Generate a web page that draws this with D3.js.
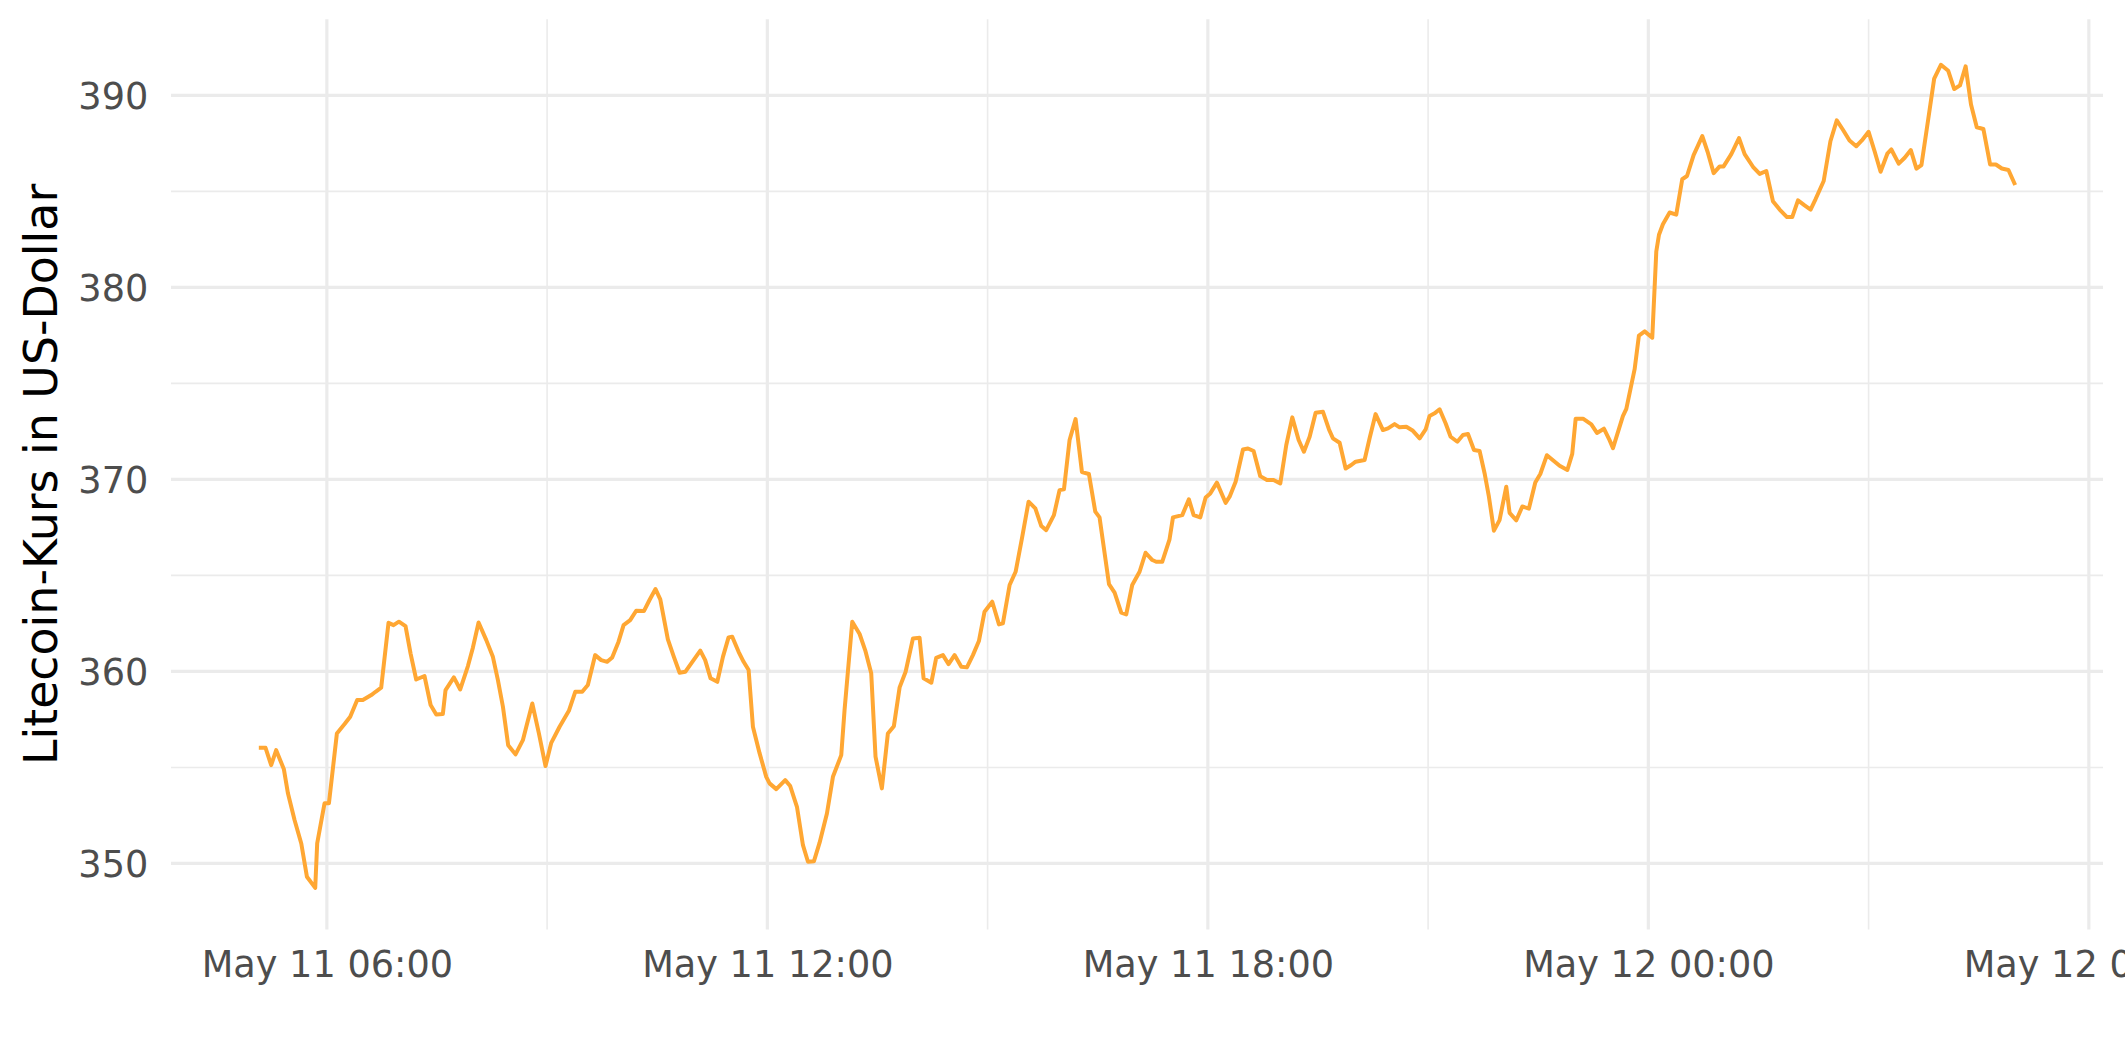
<!DOCTYPE html>
<html>
<head>
<meta charset="utf-8">
<script src="https://cdn.jsdelivr.net/npm/d3@7"></script>
<style>
  html, body { margin: 0; padding: 0; background: #ffffff; }
  svg { display: block; }
  text { font-family: "DejaVu Sans", sans-serif; }
</style>
</head>
<body>
<svg id="chart" width="2125" height="1062"></svg>
<script>
// ---- data: minutes after 2021-05-11 00:00 (local) and Litecoin price in USD ----
const minutesSinceMay11 = [
  304.4,309.9,314.5,318.6,324.9,328.2,333.6,339.1,343.7,350.5,352.1,358.1,361.7,368.2,374.5,379.1,384.8,389.4,396.3,399.8,
  404.4,410.4,414.5,418.9,424.3,428.4,433.0,439.8,444.8,449.4,454.8,457.0,463.8,469.0,475.3,479.4,484.0,490.3,495.7,499.8,
  503.9,508.2,514.2,520.2,523.0,527.9,533.3,538.7,
  543.4,550.2,557.8,563.0,568.7,573.3,579.3,584.2,589.1,593.2,598.4,602.5,607.9,612.8,619.1,623.7,628.6,632.5,638.7,643.6,
  648.3,652.9,659.7,665.2,669.2,673.6,679.1,683.7,688.3,691.3,696.5,700.6,704.7,708.2,713.7,719.1,721.8,727.3,734.6,738.7,
  744.2,749.1,753.2,758.1,762.7,768.7,773.6,780.4,783.1,789.4,795.4,800.0,
  804.9,808.4,813.6,818.5,823.4,828.1,833.0,839.0,844.4,847.7,854.0,858.0,863.5,868.1,873.0,878.5,883.1,888.0,892.9,897.5,
  903.8,909.3,912.5,918.0,922.9,928.3,933.5,939.0,943.9,947.9,954.2,958.8,962.4,967.0,971.9,977.1,982.8,988.0,991.5,999.2,
  1003.8,1009.2,1013.3,1018.2,1024.2,1029.1,1034.6,1037.8,1042.7,1048.7,1051.5,1059.1,1064.5,
  1068.4,1073.8,1078.2,1082.0,1087.4,1094.5,1097.8,1102.7,1108.7,1112.8,1117.4,1122.8,1128.3,1133.7,1139.2,1144.1,1149.0,1154.2,1158.5,1163.2,
  1168.1,1174.1,1179.0,1182.2,1187.7,1192.6,1197.2,1200.8,1208.1,1212.2,1217.1,1223.1,1227.2,1232.6,1236.7,1242.2,1247.6,1253.1,1258.0,1261.2,
  1265.3,1269.4,1274.3,1278.4,1283.9,1288.5,1292.6,1297.5,1302.1,1306.2,1309.7,1313.8,1318.4,1323.9,
  1326.6,1332.1,1337.0,1342.4,1347.6,1351.7,1357.1,1367.5,1373.8,1377.8,1380.6,1386.6,1393.4,1398.0,1403.7,1408.4,1411.1,1419.2,1422.0,1428.8,
  1432.3,1437.0,1443.2,1446.5,1448.7,1451.9,1457.4,1462.8,1467.7,1471.6,1477.0,1484.1,1488.7,1493.4,1498.3,1501.5,1507.8,1514.1,1518.7,1525.5,
  1531.0,1536.4,1541.8,1547.3,1553.3,1557.6,1562.3,1567.7,1572.6,1576.7,
  1583.3,1588.8,1594.0,1598.9,1604.4,1609.9,1614.5,1620.0,1624.9,1629.8,1635.3,1638.6,1644.6,1649.5,1654.5,1659.1,1663.2,1668.7,1673.6,1679.1,
  1685.1,1690.0,1694.7,1699.3,1703.7,1708.4,1713.8,1719.3,1724.0,1728.9,1734.3,1739.8
];
const priceUSD = [
  356.02,356.02,355.12,355.90,354.90,353.65,352.26,351.04,349.31,348.73,351.04,353.13,353.13,356.77,357.26,357.64,358.51,358.51,358.77,358.94,
  359.15,362.53,362.41,362.59,362.36,360.94,359.58,359.76,358.25,357.76,357.78,359.03,359.69,359.06,360.28,361.25,362.55,361.63,360.76,359.55,
  358.16,356.16,355.68,356.42,357.12,358.33,356.77,355.07,
  356.28,357.12,357.95,358.94,358.94,359.29,360.85,360.59,360.50,360.73,361.55,362.41,362.67,363.16,363.14,363.72,364.29,363.75,361.67,360.76,
  359.93,359.98,360.59,361.08,360.59,359.64,359.46,360.76,361.77,361.81,361.02,360.50,360.07,357.12,355.73,354.51,354.17,353.87,354.34,354.03,
  352.95,350.95,350.09,350.12,351.08,352.60,354.51,355.64,357.99,362.59,361.95,361.10,
  359.90,355.56,353.91,356.77,357.15,359.17,359.98,361.72,361.75,359.64,359.41,360.71,360.85,360.38,360.85,360.24,360.21,360.85,361.58,363.11,
  363.63,362.45,362.50,364.50,365.19,367.01,368.84,368.49,367.57,367.36,368.14,369.44,369.48,372.05,373.14,370.38,370.28,368.32,368.02,364.55,
  364.10,363.06,362.97,364.50,365.19,366.18,365.80,365.71,365.71,366.88,368.02,368.14,368.96,
  368.14,368.02,369.06,369.27,369.83,368.78,369.10,369.88,371.56,371.61,371.48,370.17,369.97,369.97,369.79,371.79,373.23,372.05,371.44,372.22,
  373.47,373.52,372.60,372.14,371.91,370.57,370.75,370.92,371.01,372.14,373.40,372.57,372.66,372.88,372.71,372.74,372.53,372.14,372.60,373.30,
  373.44,373.65,372.92,372.22,371.96,372.31,372.36,371.53,371.48,370.31,369.10,367.33,367.88,369.62,
  368.26,367.87,368.59,368.48,369.84,370.28,371.26,370.71,370.49,371.33,373.16,373.16,372.86,372.42,372.64,372.03,371.63,373.29,373.67,375.74,
  377.49,377.71,377.38,381.87,382.74,383.29,383.90,383.79,385.63,385.80,386.89,387.88,387.00,385.95,386.30,386.30,386.94,387.77,386.94,386.28,
  385.91,386.06,384.49,384.05,383.66,383.66,384.53,384.27,384.05,384.60,
  385.54,387.61,388.70,388.22,387.65,387.35,387.65,388.10,387.09,386.02,386.96,387.18,386.44,386.75,387.15,386.18,386.37,388.74,390.87,391.59,
  391.28,390.33,390.52,391.51,389.52,388.34,388.25,386.40,386.40,386.19,386.11,385.33
];
const yMajorTicks = [350, 360, 370, 380, 390];
const yMinorTicks = [355, 365, 375, 385];
const xTickFormat = "%b %d %H:%M";
const yAxisTitle = "Litecoin-Kurs in US-Dollar";

// ---- build ----
const base = new Date(2021, 4, 11, 0, 0, 0);
const toDate = m => new Date(base.getTime() + m * 60000);
const data = minutesSinceMay11.map((m, i) => ({ t: toDate(m), v: priceUSD[i] }));

const W = 2125, H = 1062;
const panel = { left: 171, right: 2103, top: 19.3, bottom: 929.5 };

const tExt = d3.extent(data, d => d.t.getTime());
const tPad = (tExt[1] - tExt[0]) * 0.05;
const x = d3.scaleTime()
  .domain([new Date(tExt[0] - tPad), new Date(tExt[1] + tPad)])
  .range([panel.left, panel.right]);
const y = d3.scaleLinear()
  .domain([346.56, 393.96])
  .range([panel.bottom, panel.top]);

const svg = d3.select("#chart");
svg.append("rect").attr("width", W).attr("height", H).attr("fill", "#ffffff");

const grid = svg.append("g");
const gridColor = "#EBEBEB";
const majW = 3.2, minW = 1.6;

// minor grid
const xMajor = d3.timeHour.every(6).range(x.domain()[0], x.domain()[1]);
const xAll = d3.timeHour.every(3).range(x.domain()[0], x.domain()[1]);
const xMinor = xAll.filter(d => d.getHours() % 6 !== 0);

grid.selectAll("line.ymin").data(yMinorTicks).join("line")
  .attr("x1", panel.left).attr("x2", panel.right)
  .attr("y1", d => y(d)).attr("y2", d => y(d))
  .attr("stroke", gridColor).attr("stroke-width", minW);
grid.selectAll("line.xmin").data(xMinor).join("line")
  .attr("x1", d => x(d)).attr("x2", d => x(d))
  .attr("y1", panel.top).attr("y2", panel.bottom)
  .attr("stroke", gridColor).attr("stroke-width", minW);
// major grid
grid.selectAll("line.ymaj").data(yMajorTicks).join("line")
  .attr("x1", panel.left).attr("x2", panel.right)
  .attr("y1", d => y(d)).attr("y2", d => y(d))
  .attr("stroke", gridColor).attr("stroke-width", majW);
grid.selectAll("line.xmaj").data(xMajor).join("line")
  .attr("x1", d => x(d)).attr("x2", d => x(d))
  .attr("y1", panel.top).attr("y2", panel.bottom)
  .attr("stroke", gridColor).attr("stroke-width", majW);

// line
const line = d3.line().x(d => x(d.t)).y(d => y(d.v));
svg.append("path").datum(data)
  .attr("d", line)
  .attr("fill", "none")
  .attr("stroke", "#FFA733")
  .attr("stroke-width", 4)
  .attr("stroke-linejoin", "round")
  .attr("stroke-linecap", "butt");

// axes (no domain line, no ticks, like theme_minimal)
const fmt = d3.timeFormat(xTickFormat);
const xAxis = svg.append("g")
  .attr("transform", `translate(0,${panel.bottom})`)
  .call(d3.axisBottom(x).tickValues(xMajor).tickFormat(fmt).tickSize(0).tickPadding(0));
xAxis.select(".domain").remove();
xAxis.selectAll("text")
  .attr("y", 47.2).attr("dy", 0)
  .attr("fill", "#4D4D4D")
  .style("font-size", "36.67px")
  .style("font-family", "'DejaVu Sans', sans-serif");

const yAxis = svg.append("g")
  .attr("transform", `translate(${panel.left},0)`)
  .call(d3.axisLeft(y).tickValues(yMajorTicks).tickFormat(d3.format("d")).tickSize(0).tickPadding(0));
yAxis.select(".domain").remove();
yAxis.selectAll("text")
  .attr("x", -22.7).attr("dy", "0.35em")
  .attr("fill", "#4D4D4D")
  .style("font-size", "36.67px")
  .style("font-family", "'DejaVu Sans', sans-serif");

// axis title
svg.append("text")
  .attr("transform", `translate(57,${(panel.top + panel.bottom) / 2}) rotate(-90)`)
  .attr("text-anchor", "middle")
  .attr("fill", "#000000")
  .style("font-size", "45.83px")
  .style("font-family", "'DejaVu Sans', sans-serif")
  .text(yAxisTitle);
</script>
</body>
</html>
